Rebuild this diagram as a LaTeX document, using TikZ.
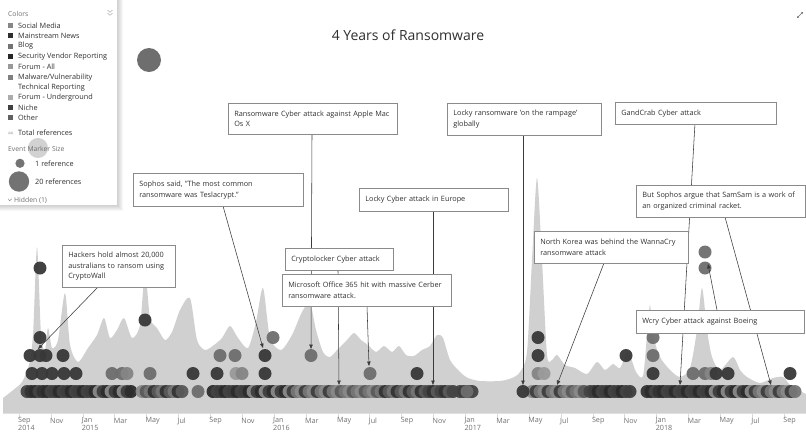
\documentclass[tikz,border=0pt]{standalone}
\usepackage{fontspec}
\setmainfont{Open Sans}
\usetikzlibrary{arrows.meta}
\definecolor{areac}{HTML}{D0D0D0}
\definecolor{txt}{HTML}{303030}
\definecolor{soft}{HTML}{707070}
\definecolor{boxc}{HTML}{8A8A8A}
\definecolor{linec}{HTML}{3A3A3A}
\definecolor{dD}{HTML}{383838}
\definecolor{dM}{HTML}{6E6E6E}
\definecolor{dL}{HTML}{858585}
\definecolor{dLL}{HTML}{9A9A9A}
\definecolor{dc0}{HTML}{333333}
\definecolor{dc1}{HTML}{3E3E3E}
\definecolor{dc2}{HTML}{5A5A5A}
\definecolor{dc3}{HTML}{2C2C2C}
\definecolor{dc4}{HTML}{767676}
\definecolor{dc5}{HTML}{444444}
\definecolor{dc6}{HTML}{8A8A8A}
\newcommand\mydot[3]{\fill[#3, fill opacity=.95] (#1,#2) circle[radius=6.5];}
\begin{document}
\begin{tikzpicture}[x=1pt,y=-1pt,
  callout/.style={draw=boxc, line width=0.6pt, fill=white, anchor=north west, align=left,
    font=\fontsize{7.3}{10.6}\selectfont, text=txt, inner xsep=6pt, inner ysep=0pt},
  conn/.style={draw=linec, line width=0.55pt, -{Triangle[length=4.5pt,width=3.4pt]}},
  lgtext/.style={font=\fontsize{7.3}{8}\selectfont, text=txt, anchor=west, inner sep=0pt},
  lgsoft/.style={font=\fontsize{6.8}{8}\selectfont, text=soft, anchor=west, inner sep=0pt},
  axl/.style={font=\fontsize{7.2}{8}\selectfont, text=soft, anchor=west, inner sep=0pt}]
\useasboundingbox (0,0) rectangle (806,432);
\fill[white] (0,0) rectangle (806,432);

% total references area
\fill[areac] (3,413) -- plot[smooth, tension=0.45] coordinates {
(3,398) (12,391) (22,382) (29,365) (33,335) (37,247) (41,335) (45,350) (48,328) (52,348)
(58,340) (65,293) (70,345) (78,362) (88,348) (97,335) (104,318) (110,338) (117,330)
(124,318) (132,338) (140,325) (145,272) (150,318) (157,328) (165,340) (172,332) (180,310)
(190,298) (197,340) (205,350) (214,345) (222,338) (230,326) (238,338) (248,348) (256,322)
(263,288) (270,338) (281,350) (292,335) (302,312) (310,303) (316,330) (323,352) (330,357)
(338,349) (347,340) (354,333) (361,340) (368,345) (376,352) (384,346) (392,352) (399,346)
(406,355) (414,356) (422,350) (430,346) (437,335) (443,338) (450,360) (460,372) (468,378)
(480,381) (500,381) (512,378) (520,372) (527,352) (532,260) (537,178) (542,260) (547,355)
(552,360) (557,355) (565,365) (575,368) (587,374) (597,362) (605,370) (613,364) (620,368)
(628,352) (636,372) (643,376) (647,335) (650,305) (653,335) (660,357) (670,370) (680,377)
(690,368) (697,330) (702,288) (707,330) (712,357) (720,370) (733,357) (740,370) (747,377)
(760,383) (773,378) (783,377) (790,385) (800,391) (806,394)} -- (806,413) -- cycle;

% axis
\draw[black!12, line width=0.5pt] (3,413.5) -- (806,413.5);
\foreach \m/\yr [count=\k from 0] in {Sep/2014,Nov/,Jan/2015,Mar/,May/,Jul/,Sep/,Nov/,Jan/2016,Mar/,May/,Jul/,Sep/,Nov/,Jan/2017,Mar/,May/,Jul/,Sep/,Nov/,Jan/2018,Mar/,May/,Jul/,Sep/}{
  \pgfmathsetmacro\xx{18+31.88*\k}
  \draw[black!15, line width=0.5pt] (\xx+1,413.5) -- (\xx+1,417.5);
  \node[axl] (mon\k) at (\xx,421) {\m};
  \node[axl] (yr\k) at (\xx,428) {\yr};
}

% bottom row of events
\foreach \a/\b in {27/133,142/170,174/183,213/453,460/473,532/585,590/630,647/797}{
  \pgfmathtruncatemacro\s{\a+4}
  \foreach \x in {\a,\s,...,\b}{
    \pgfmathtruncatemacro\c{mod(\x*13+mod(\x,11)*5,7)}
    \mydot{\x}{391.5}{dc\c}
  }
}
\mydot{198}{391.5}{dM}
\mydot{467}{391.5}{dM}
\mydot{523}{391.5}{dD}

% row 2
\foreach \x/\c in {32/dD,42/dD,52/dD,64/dD,76/dD,112/dM,122/dM,127/dL,150/dM,193/dD,217/dD,236/dLL,242/dL,265/dD,370/dM,417/dD,538/dL,544/dLL,653/dD,693/dM,705/dM,711/dL,716/dD,728/dD,790/dD}
  {\mydot{\x}{373.5}{\c}}
% row 3
\foreach \x/\c in {30/dD,40/dD,46/dD,63/dD,220/dM,235/dM,265/dD,311/dM,538/dD,626/dD,653/dM}
  {\mydot{\x}{355.5}{\c}}
% row 4
\foreach \x/\c in {40/dD,273/dM,538/dD,653/dM}
  {\mydot{\x}{337.5}{\c}}
\mydot{145}{320}{dD}
\mydot{40}{268}{dD}
\mydot{705}{252}{dM}
\mydot{705}{268}{dM}
\fill[dM] (149,60) circle[radius=12];

% connector end points
\coordinate (hk-s) at (98,287);   \coordinate (hk-t) at (38,349);
\coordinate (so-s) at (223,206);  \coordinate (so-t) at (263,348);
\coordinate (ap-s) at (312,134);  \coordinate (ap-t) at (311,349);
\coordinate (cr-s) at (338,270);  \coordinate (cr-t) at (339,385);
\coordinate (ms-s) at (367,306);  \coordinate (ms-t) at (369,366);
\coordinate (le-s) at (433,211);  \coordinate (le-t) at (433,385);
\coordinate (lr-s) at (523,135);  \coordinate (lr-t) at (523,385);
\coordinate (gc-s) at (695,123);  \coordinate (gc-t) at (680,385);
\coordinate (ss-s) at (725,217);  \coordinate (ss-t) at (771,385);
\coordinate (nk-s) at (604,263);  \coordinate (nk-t) at (557,385);
\coordinate (wc-s) at (717,310);  \coordinate (wc-t) at (708,264);
\foreach \n in {hk,so,ap,cr,ms,le,lr,gc,ss,nk,wc}
  {\draw[conn] (\n-s) -- (\n-t);}

% callouts
\node[callout, minimum width=113pt, minimum height=42pt, text width=101pt] (hk) at (62,245)
  {Hackers hold almost 20,000\\australians to ransom using\\CryptoWall};
\node[callout, minimum width=170pt, minimum height=33pt, text width=158pt] (so) at (133,173)
  {Sophos said, "The most common\\ransomware was Teslacrypt."};
\node[callout, minimum width=169pt, minimum height=31pt, text width=157pt] (ap) at (228,103)
  {Ransomware Cyber attack against Apple Mac\\Os X};
\node[callout, minimum width=108pt, minimum height=22pt, text width=96pt] (cr) at (285,248)
  {Cryptolocker Cyber attack};
\node[callout, minimum width=169pt, minimum height=32pt, text width=157pt] (ms) at (282,274)
  {Microsoft Office 365 hit with massive Cerber\\ransomware attack.};
\node[callout, minimum width=149pt, minimum height=23pt, text width=137pt] (le) at (359,188)
  {Locky Cyber attack in Europe};
\node[callout, minimum width=154pt, minimum height=32pt, text width=142pt] (lr) at (447,103)
  {Locky ransomware 'on the rampage'\\globally};
\node[callout, minimum width=161pt, minimum height=22pt, text width=149pt] (gc) at (615,102)
  {GandCrab Cyber attack};
\node[callout, minimum width=169pt, minimum height=32pt, text width=157pt] (ss) at (636,185)
  {But Sophos argue that SamSam is a work of\\an organized criminal racket.};
\node[callout, minimum width=154pt, minimum height=32pt, text width=142pt] (nk) at (534,231)
  {North Korea was behind the WannaCry\\ransomware attack};
\node[callout, minimum width=168pt, minimum height=23pt, text width=156pt] (wc) at (636,310)
  {Wcry Cyber attack against Boeing};

% title and corner icon
\node[font=\fontsize{14}{16}\selectfont, text=txt, inner sep=0pt] (title) at (408,35) {4 Years of Ransomware};
\draw[soft, line width=0.6pt, {Triangle[length=2pt,width=2pt]}-{Triangle[length=2pt,width=2pt]}] (797,18) -- (803,12);

% legend panel
\foreach \k in {1,...,6}
  {\fill[black, opacity=0.03] (0,0) rectangle (117+\k,205+\k);}
\fill[white] (0,0) rectangle (117,205);
\fill[black!25, opacity=0.7] (38,148) circle[radius=10];
\node[lgsoft] (lg-colors) at (8,14) {Colors};
\draw[black!35, line width=0.5pt] (107.5,10) -- (110,12.3) -- (112.5,10) (107.5,13) -- (110,15.3) -- (112.5,13);
\fill[black!47] (8,23.2) rectangle (13,28.2);
\node[lgtext] (lg1) at (18,25.7) {Social Media};
\fill[black!82] (8,33.2) rectangle (13,38.2);
\node[lgtext] (lg2) at (18,35.7) {Mainstream News};
\fill[black!55] (8,43.5) rectangle (13,48.5);
\node[lgtext] (lg3) at (18,46) {Blog};
\fill[black!85] (8,54.2) rectangle (13,59.2);
\node[lgtext] (lg4) at (18,56.7) {Security Vendor Reporting};
\fill[black!40] (8,64.2) rectangle (13,69.2);
\node[lgtext] (lg5) at (18,66.7) {Forum - All};
\fill[black!50] (8,74.8) rectangle (13,79.8);
\node[lgtext] (lg6) at (18,77.3) {Malware/Vulnerability};
\node[lgtext] (lg6b) at (18,87.3) {Technical Reporting};
\fill[black!33] (8,95.2) rectangle (13,100.2);
\node[lgtext] (lg7) at (18,97.7) {Forum - Underground};
\fill[black!75] (8,105.2) rectangle (13,110.2);
\node[lgtext] (lg8) at (18,107.7) {Niche};
\fill[black!62] (8,115.2) rectangle (13,120.2);
\node[lgtext] (lg9) at (18,117.7) {Other};
\fill[black!18] (8,134) -- (9,131.2) -- (10.5,133) -- (12,131) -- (13.5,134) -- cycle;
\node[lgtext] (lg10) at (18,132.3) {Total references};
\node[lgsoft] (lg-size) at (8,149.3) {Event Marker Size};
\fill[black!55] (20,163.3) circle[radius=4.6];
\node[lgtext] (lg-one) at (35,163.3) {1 reference};
\fill[black!55] (19,181.5) circle[radius=10.2];
\node[lgtext] (lg-twenty) at (35,181.7) {20 references};
\draw[black!45, line width=0.5pt] (8,198.8) -- (9.8,200.8) -- (11.6,198.8);
\node[lgsoft] (lg-hidden) at (14,200) {Hidden (1)};
\end{tikzpicture}
\end{document}
